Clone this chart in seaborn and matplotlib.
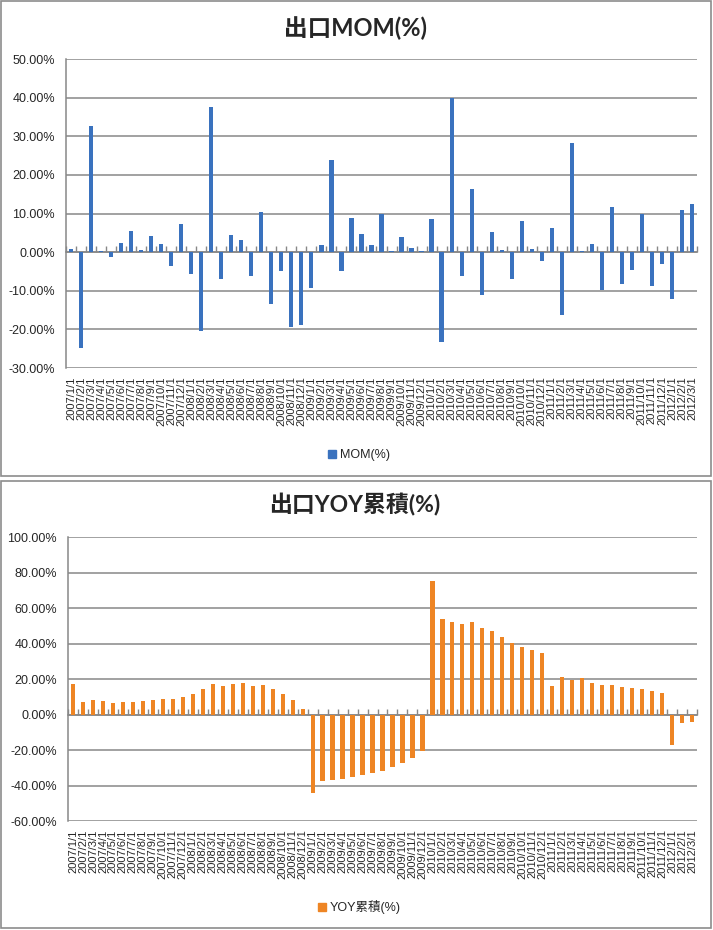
import matplotlib
matplotlib.use("Agg")
import matplotlib.pyplot as plt
import numpy as np
import pandas as pd
import seaborn as sns
from matplotlib.patches import Rectangle
from matplotlib.lines import Line2D
from matplotlib.ticker import FuncFormatter, MultipleLocator, FixedLocator, NullFormatter

sns.set_theme(style="white")
plt.rcParams["font.family"] = ["Liberation Sans", "Noto Sans CJK TC", "DejaVu Sans"]

# ---- data ----
months = [f"{y}/{m}/1" for y in range(2007, 2013) for m in range(1, 13)][:63]

mom = [0.8, -24.7, 32.6, 0.3, -1.2, 2.3, 5.4, 0.5, 4.1, 2.1, -3.5, 7.2,
       -5.6, -20.3, 37.5, -6.9, 4.4, 3.1, -6.1, 10.3, -13.4, -4.8, -19.4, -18.8,
       -9.2, 1.8, 23.8, -4.8, 8.8, 4.7, 1.8, 9.9, 0.3, 3.9, 1.0, 0.3,
       8.5, -23.2, 40.0, -6.1, 16.3, -11.0, 5.2, 0.5, -6.9, 8.0, 0.8, -2.2,
       6.2, -16.2, 28.2, 0.3, 2.1, -9.8, 11.6, -8.2, -4.6, 9.9, -8.7, -3.0,
       -12.1, 10.9, 12.4]

yoy = [17.1, 7.0, 8.1, 7.5, 6.4, 7.0, 7.0, 7.5, 8.1, 8.6, 8.6, 9.8,
       11.5, 14.3, 17.1, 16.0, 17.1, 17.7, 16.0, 16.5, 14.3, 11.5, 8.1, 3.0,
       -44.2, -37.6, -37.0, -36.5, -35.3, -34.2, -33.1, -32.0, -29.7, -27.4, -24.6, -20.7,
       75.2, 53.8, 52.1, 50.9, 52.1, 48.7, 47.0, 43.6, 40.2, 38.0, 36.3, 34.6,
       16.0, 21.1, 19.4, 20.5, 17.7, 16.5, 16.5, 15.4, 14.8, 14.3, 13.2, 12.0,
       -17.1, -4.7, -4.1]

mom_title = "出口MOM(%)"
yoy_title = "出口YOY累積(%)"
mom_label = "MOM(%)"
yoy_label = "YOY累積(%)"

BLUE = "#3A72BE"
ORANGE = "#EE8524"
GRID = "#888888"

W, H = 713, 930
fig = plt.figure(figsize=(W / 100, H / 100), dpi=100)


def fx(px):
    return px / W


def fy(py):
    return 1 - py / H


# panel borders
for top, bot in [(1, 476), (481, 928)]:
    fig.add_artist(Rectangle((fx(1), fy(bot)), fx(710), (bot - top) / H,
                             transform=fig.transFigure, fill=False,
                             ec="#8c8c8c", lw=1.2))


def draw(rect, values, color, ylim, step, title, title_y, title_size, label, legend_y):
    left, top, right, bottom = rect
    ax = fig.add_axes([fx(left), fy(bottom), fx(right - left), (bottom - top) / H])
    df = pd.DataFrame({"month": months, "value": values})
    sns.barplot(data=df, x="month", y="value", color=color, width=0.42,
                saturation=1, linewidth=0, ax=ax, zorder=3)
    ax.set_xlim(-0.5, len(months) - 0.5)
    ax.set_ylim(*ylim)
    ax.yaxis.set_major_locator(MultipleLocator(step))
    ax.yaxis.set_major_formatter(FuncFormatter(lambda v, p: f"{v:.2f}%"))
    ax.grid(axis="y", color=GRID, lw=1.1, zorder=0)
    ax.grid(axis="x", visible=False)
    ax.set_axisbelow(True)
    for s in ["top", "right", "bottom"]:
        ax.spines[s].set_visible(False)
    ax.spines["left"].set_color(GRID)
    ax.spines["left"].set_linewidth(1.1)
    ax.set_xlabel("")
    ax.set_ylabel("")
    ax.tick_params(axis="y", length=0, labelsize=9, pad=8)
    ax.tick_params(axis="x", length=0, labelsize=8, rotation=90, pad=6)
    # zero axis with category boundary ticks
    zero_frac = (0 - ylim[0]) / (ylim[1] - ylim[0])
    sec = ax.secondary_xaxis(zero_frac)
    sec.xaxis.set_major_locator(FixedLocator(np.arange(-0.5, len(months), 1.0)))
    sec.xaxis.set_major_formatter(NullFormatter())
    sec.tick_params(axis="x", direction="in", length=4, width=1, color=GRID)
    sec.spines["bottom"].set_color(GRID)
    sec.spines["bottom"].set_linewidth(1.1)
    for s in ["top", "left", "right"]:
        sec.spines[s].set_visible(False)

    fig.text(fx(355), fy(title_y), title, ha="center", va="center",
             fontsize=title_size, fontweight="bold",
             family=["Lato", "Noto Sans CJK TC", "DejaVu Sans"])
    handle = Line2D([], [], marker="s", ls="", color=color, markersize=6)
    fig.legend(handles=[handle], labels=[label], loc="center",
               bbox_to_anchor=(fx(358), fy(legend_y)), frameon=False,
               fontsize=9, handletextpad=0.1, handlelength=1.0, borderpad=0)
    return ax


draw((66, 59, 697, 368), mom, BLUE, (-30, 50), 10, mom_title, 28, 17, mom_label, 455)
draw((68, 537, 697, 821), yoy, ORANGE, (-60, 100), 20, yoy_title, 505, 16.5, yoy_label, 907)

fig.savefig("out.png", dpi=100)
